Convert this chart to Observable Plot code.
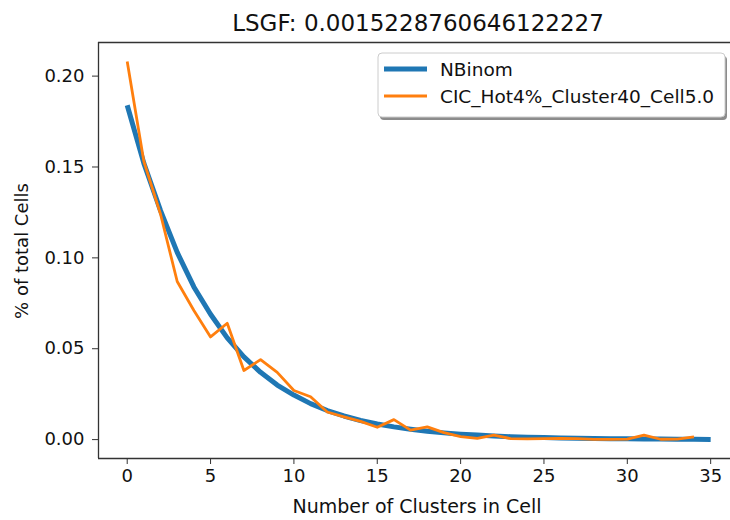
<!DOCTYPE html>
<html><head><meta charset="utf-8">
<script src="https://cdn.jsdelivr.net/npm/d3@7"></script>
<script src="https://cdn.jsdelivr.net/npm/@observablehq/plot@0.6"></script>
<style>html,body{margin:0;padding:0;background:#fff;overflow:hidden}</style>
</head><body><div id="chart"></div>
<script>
const titleText = "LSGF: 0.0015228760646122227";
const xLabel = "Number of Clusters in Cell";
const yLabel = "% of total Cells";
const seriesNames = ["NBinom", "CIC_Hot4%_Cluster40_Cell5.0"];
const seriesColors = ["#1f77b4", "#ff7f0e"];

const nbX = [0,1,2,3,4,5,6,7,8,9,10,11,12,13,14,15,16,17,18,19,20,21,22,23,24,25,26,27,28,29,30,31,32,33,34,35];
const nbY = [0.184,0.152,0.126,0.103,0.084,0.069,0.056,0.0455,0.037,0.030,0.0245,0.0198,0.016,0.013,0.0105,0.0086,0.007,0.0057,0.0046,0.0037,0.003,0.0025,0.002,0.0016,0.0013,0.0011,0.0009,0.0007,0.0006,0.0005,0.0004,0.0003,0.0003,0.0002,0.0002,0.0001];

const obsX = [0,1,2,3,4,5,6,7,8,9,10,11,12,13,14,15,16,17,18,19,20,21,22,23,24,25,26,27,28,29,30,31,32,33,34];
const obsY = [0.208,0.153,0.124,0.087,0.071,0.0565,0.064,0.038,0.044,0.037,0.027,0.0236,0.0152,0.0125,0.010,0.0068,0.011,0.0052,0.007,0.0038,0.0016,0.0007,0.0025,0.0005,0.0004,0.0005,0.0006,0.0005,0.0001,0.0001,0.0003,0.0025,0.0002,0.0003,0.0015];

const xTicks = [0,5,10,15,20,25,30,35];
const yTicks = [0,0.05,0.10,0.15,0.20];

const nb = nbX.map((x,i)=>({x, y: nbY[i]}));
const obs = obsX.map((x,i)=>({x, y: obsY[i]}));

const W = 730, H = 520;
const xDomain = [-1.722, 36.19];
const yDomain = [-0.0104, 0.2185];
const spine = "#333";
const textColor = "#111";

const plot = Plot.plot({
  width: W, height: H,
  marginLeft: 98, marginRight: 0, marginTop: 42, marginBottom: 62,
  style: {fontFamily: "DejaVu Sans", fontSize: "18px", background: "#fff", color: textColor},
  x: {domain: xDomain},
  y: {domain: yDomain},
  marks: [
    Plot.ruleX([xDomain[0]], {stroke: spine, strokeWidth: 1.3}),
    Plot.ruleY([yDomain[0], yDomain[1]], {stroke: spine, strokeWidth: 1.3}),
    Plot.axisX({ticks: xTicks, tickSize: 6, tickPadding: 5, label: null, fontSize: 18, stroke: spine}),
    Plot.axisY({ticks: yTicks, tickFormat: d3.format(".2f"), tickSize: 6, tickPadding: 8, label: null, fontSize: 18, stroke: spine}),
    Plot.line(nb, {x: "x", y: "y", stroke: seriesColors[0], strokeWidth: 5, strokeLinecap: "butt"}),
    Plot.line(obs, {x: "x", y: "y", stroke: seriesColors[1], strokeWidth: 2.8, strokeLinecap: "butt"})
  ]
});

const svg = d3.select(plot);
svg.append("text").attr("x", 418).attr("y", 31).attr("text-anchor", "middle")
  .attr("font-size", 23).attr("fill", textColor).text(titleText);
svg.append("text").attr("x", 417).attr("y", 513).attr("text-anchor", "middle")
  .attr("font-size", 19).attr("fill", textColor).text(xLabel);
svg.append("text").attr("transform", "translate(28,251) rotate(-90)").attr("text-anchor", "middle")
  .attr("font-size", 18).attr("fill", textColor).text(yLabel);

// legend
const lg = svg.append("g");
lg.append("rect").attr("x", 380).attr("y", 56).attr("width", 347).attr("height", 64).attr("rx", 4)
  .attr("fill", "#8c8c8c");
lg.append("rect").attr("x", 378).attr("y", 53).attr("width", 347).attr("height", 64).attr("rx", 4)
  .attr("fill", "#fff").attr("stroke", "#cccccc").attr("stroke-width", 1);
const rowsY = [69, 96];
seriesNames.forEach((name, i) => {
  lg.append("line").attr("x1", 384).attr("x2", 427).attr("y1", rowsY[i]).attr("y2", rowsY[i])
    .attr("stroke", seriesColors[i]).attr("stroke-width", i === 0 ? 5 : 2.8);
  lg.append("text").attr("x", 440).attr("y", rowsY[i]).attr("dy", "0.36em").attr("text-anchor", "start")
    .attr("font-size", 18.5).attr("fill", textColor).text(name);
});

document.getElementById("chart").appendChild(plot);
</script>
</body></html>
